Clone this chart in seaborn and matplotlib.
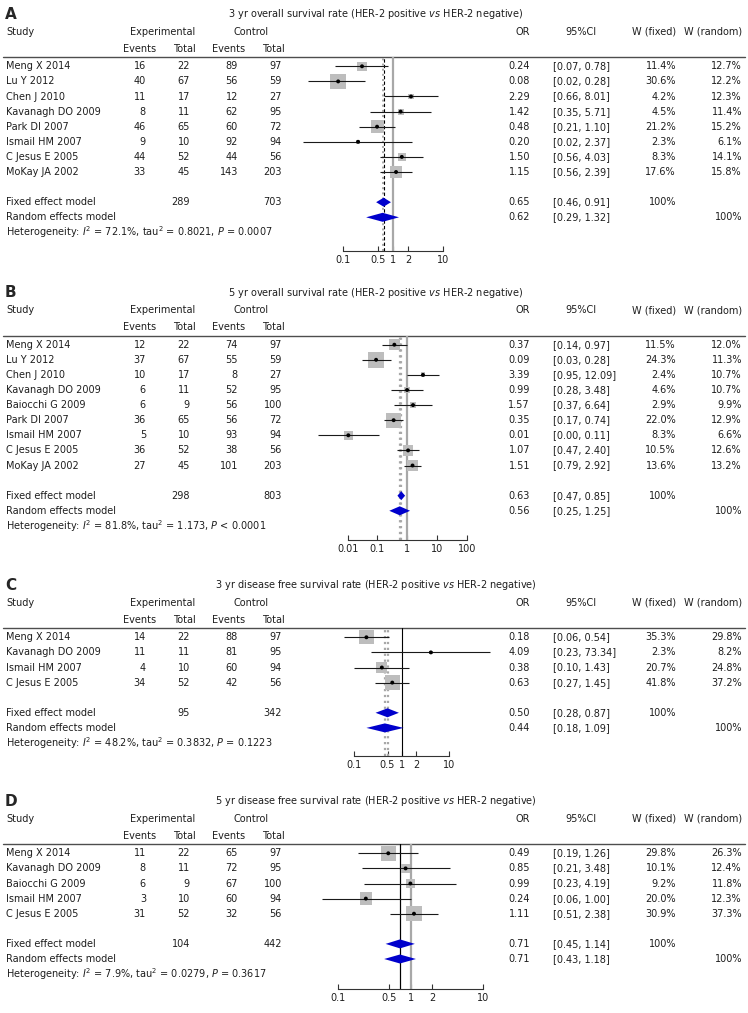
import numpy as np
import pandas as pd
import seaborn as sns
import matplotlib
matplotlib.use("Agg")
import matplotlib.pyplot as plt
from matplotlib.ticker import NullLocator

# %% data
SUBTITLE = r" (HER-2 positive $\it{vs}$ HER-2 negative)"

# A: 3 yr overall survival
A_TITLE = "3 yr overall survival rate"
A_STUDY = ["Meng X 2014", "Lu Y 2012", "Chen J 2010", "Kavanagh DO 2009", "Park DI 2007",
           "Ismail HM 2007", "C Jesus E 2005", "MoKay JA 2002"]
A_EV_E = [16, 40, 11, 8, 46, 9, 44, 33]
A_N_E = [22, 67, 17, 11, 65, 10, 52, 45]
A_EV_C = [89, 56, 12, 62, 60, 92, 44, 143]
A_N_C = [97, 59, 27, 95, 72, 94, 56, 203]
A_OR = [0.24, 0.08, 2.29, 1.42, 0.48, 0.20, 1.50, 1.15]
A_LO = [0.07, 0.02, 0.66, 0.35, 0.21, 0.016, 0.56, 0.56]
A_HI = [0.78, 0.28, 8.01, 5.71, 1.10, 2.37, 4.03, 2.39]
A_WF = [11.4, 30.6, 4.2, 4.5, 21.2, 2.3, 8.3, 17.6]
A_WR = [12.7, 12.2, 12.3, 11.4, 15.2, 6.1, 14.1, 15.8]
A_FIXED = [0.65, 0.46, 0.91]
A_RANDOM = [0.62, 0.29, 1.32]
A_TOTALS = [289, 703]
A_HET = ["72.1%", "0.8021", "= 0.0007"]
A_TICKS = [0.1, 0.5, 1, 2, 10]

# B: 5 yr overall survival
B_TITLE = "5 yr overall survival rate"
B_STUDY = ["Meng X 2014", "Lu Y 2012", "Chen J 2010", "Kavanagh DO 2009", "Baiocchi G 2009",
           "Park DI 2007", "Ismail HM 2007", "C Jesus E 2005", "MoKay JA 2002"]
B_EV_E = [12, 37, 10, 6, 6, 36, 5, 36, 27]
B_N_E = [22, 67, 17, 11, 9, 65, 10, 52, 45]
B_EV_C = [74, 55, 8, 52, 56, 56, 93, 38, 101]
B_N_C = [97, 59, 27, 95, 100, 72, 94, 56, 203]
B_OR = [0.37, 0.09, 3.39, 0.99, 1.57, 0.35, 0.0105, 1.07, 1.51]
B_LO = [0.14, 0.03, 0.95, 0.28, 0.37, 0.17, 0.001, 0.47, 0.79]
B_HI = [0.97, 0.28, 12.09, 3.48, 6.64, 0.74, 0.11, 2.40, 2.92]
B_WF = [11.5, 24.3, 2.4, 4.6, 2.9, 22.0, 8.3, 10.5, 13.6]
B_WR = [12.0, 11.3, 10.7, 10.7, 9.9, 12.9, 6.6, 12.6, 13.2]
B_FIXED = [0.63, 0.47, 0.85]
B_RANDOM = [0.56, 0.25, 1.25]
B_TOTALS = [298, 803]
B_HET = ["81.8%", "1.173", "< 0.0001"]
B_TICKS = [0.01, 0.1, 1, 10, 100]

# C: 3 yr disease free survival
C_TITLE = "3 yr disease free survival rate"
C_STUDY = ["Meng X 2014", "Kavanagh DO 2009", "Ismail HM 2007", "C Jesus E 2005"]
C_EV_E = [14, 11, 4, 34]
C_N_E = [22, 11, 10, 52]
C_EV_C = [88, 81, 60, 42]
C_N_C = [97, 95, 94, 56]
C_OR = [0.18, 4.09, 0.38, 0.63]
C_LO = [0.06, 0.23, 0.10, 0.27]
C_HI = [0.54, 73.34, 1.43, 1.45]
C_WF = [35.3, 2.3, 20.7, 41.8]
C_WR = [29.8, 8.2, 24.8, 37.2]
C_FIXED = [0.50, 0.28, 0.87]
C_RANDOM = [0.44, 0.18, 1.09]
C_TOTALS = [95, 342]
C_HET = ["48.2%", "0.3832", "= 0.1223"]
C_TICKS = [0.1, 0.5, 1, 2, 10]

# D: 5 yr disease free survival
D_TITLE = "5 yr disease free survival rate"
D_STUDY = ["Meng X 2014", "Kavanagh DO 2009", "Baiocchi G 2009", "Ismail HM 2007", "C Jesus E 2005"]
D_EV_E = [11, 8, 6, 3, 31]
D_N_E = [22, 11, 9, 10, 52]
D_EV_C = [65, 72, 67, 60, 32]
D_N_C = [97, 95, 100, 94, 56]
D_OR = [0.49, 0.85, 0.99, 0.24, 1.11]
D_LO = [0.19, 0.21, 0.23, 0.06, 0.51]
D_HI = [1.26, 3.48, 4.19, 1.00, 2.38]
D_WF = [29.8, 10.1, 9.2, 20.0, 30.9]
D_WR = [26.3, 12.4, 11.8, 12.3, 37.3]
D_FIXED = [0.71, 0.45, 1.14]
D_RANDOM = [0.71, 0.43, 1.18]
D_TOTALS = [104, 442]
D_HET = ["7.9%", "0.0279", "= 0.3617"]
D_TICKS = [0.1, 0.5, 1, 2, 10]

# %% layout (pixels): first row y, axis y, x of OR=1, px per decade
LAYOUT = {
    "A": dict(y0=66.3, axis_y=251, x1=393.0, dec=50.0),
    "B": dict(y0=344.7, axis_y=540, x1=407.2, dec=29.75),
    "C": dict(y0=637.3, axis_y=755.7, x1=401.8, dec=47.5),
    "D": dict(y0=853.3, axis_y=989, x1=410.7, dec=72.4),
}
GREY = "#a8a8a8"
LINES = {  # null line, fixed line, random line styles
    "A": [(GREY, "-", 1.6), ("black", (0, (3, 2)), 0.8), (GREY, ":", 1.4)],
    "B": [(GREY, "-", 1.6), (GREY, ":", 1.6), (GREY, ":", 1.6)],
    "C": [("black", "-", 0.8), (GREY, ":", 1.6), (GREY, ":", 1.6)],
    "D": [(GREY, "-", 1.6), ("black", "-", 0.8), ("black", "-", 0.8)],
}

panels = []
for key, src in zip("ABCD", [
        (A_TITLE, A_STUDY, A_EV_E, A_N_E, A_EV_C, A_N_C, A_OR, A_LO, A_HI, A_WF, A_WR, A_FIXED, A_RANDOM, A_TOTALS, A_HET, A_TICKS),
        (B_TITLE, B_STUDY, B_EV_E, B_N_E, B_EV_C, B_N_C, B_OR, B_LO, B_HI, B_WF, B_WR, B_FIXED, B_RANDOM, B_TOTALS, B_HET, B_TICKS),
        (C_TITLE, C_STUDY, C_EV_E, C_N_E, C_EV_C, C_N_C, C_OR, C_LO, C_HI, C_WF, C_WR, C_FIXED, C_RANDOM, C_TOTALS, C_HET, C_TICKS),
        (D_TITLE, D_STUDY, D_EV_E, D_N_E, D_EV_C, D_N_C, D_OR, D_LO, D_HI, D_WF, D_WR, D_FIXED, D_RANDOM, D_TOTALS, D_HET, D_TICKS)]):
    title, study, eve, ne, evc, nc, orr, lo, hi, wf, wr, fixed, random, totals, het, ticks = src
    df = pd.DataFrame(dict(study=study, ev_e=eve, n_e=ne, ev_c=evc, n_c=nc,
                           OR=orr, lo=lo, hi=hi, wf=wf, wr=wr))
    panels.append(dict(key=key, title=title, df=df, fixed=fixed, random=random,
                       totals=totals, het=het, ticks=ticks))

# %% figure
sns.set_theme(style="white")
plt.rcParams["font.family"] = ["DejaVu Sans"]
plt.rcParams["mathtext.fontset"] = "dejavusans"
FS = 7

W, H = 748, 1013
fig = plt.figure(figsize=(W / 100, H / 100), dpi=100)
bg = fig.add_axes([0, 0, 1, 1])
bg.set_xlim(0, W)
bg.set_ylim(H, 0)
bg.axis("off")

STEP = 15.1
COL = dict(study=6, ev_e=146, n_e=190, ev_c=238, n_c=282, OR=530, ci=553, wf=676, wr=742)
L_PX, R_PX = 292, 505

def txt(x, y, s, ha="left", **kw):
    bg.text(x, y, s, ha=ha, va="center", fontsize=kw.pop("fontsize", FS), color="#1e1e1e", **kw)

def ci_str(lo, hi):
    return f"[{lo:.2f}, {hi:.2f}]"

for p in panels:
    lay = LAYOUT[p["key"]]
    df = p["df"]
    y0 = lay["y0"]
    rows = y0 + STEP * np.arange(len(df))
    y_fix = rows[-1] + 2 * STEP
    y_ran = y_fix + STEP
    y_het = y_ran + STEP
    line_y = y0 - 9

    # headers
    bg.text(5, y0 - 52, p["key"], ha="left", va="center", fontsize=11, fontweight="bold")
    txt(376, y0 - 52, p["title"] + SUBTITLE, ha="center")
    yh = y0 - 34.5
    txt(COL["study"], yh, "Study")
    txt(163, yh, "Experimental", ha="center")
    txt(251, yh, "Control", ha="center")
    txt(523, yh, "OR", ha="center")
    txt(581, yh, "95%CI", ha="center")
    txt(COL["wf"], yh, "W (fixed)", ha="right")
    txt(COL["wr"], yh, "W (random)", ha="right")
    ye = y0 - 17.3
    for xc, lab in zip([140, 184, 229, 273], ["Events", "Total", "Events", "Total"]):
        txt(xc, ye, lab, ha="center")
    bg.plot([3, 745], [line_y, line_y], color="0.3", lw=1)

    # study rows
    for y, r in zip(rows, df.itertuples()):
        txt(COL["study"], y, r.study)
        txt(COL["ev_e"], y, str(r.ev_e), ha="right")
        txt(COL["n_e"], y, str(r.n_e), ha="right")
        txt(COL["ev_c"], y, str(r.ev_c), ha="right")
        txt(COL["n_c"], y, str(r.n_c), ha="right")
        txt(COL["OR"], y, f"{r.OR:.2f}", ha="right")
        txt(COL["ci"], y, ci_str(r.lo, r.hi))
        txt(COL["wf"], y, f"{r.wf:.1f}%", ha="right")
        txt(COL["wr"], y, f"{r.wr:.1f}%", ha="right")

    # pooled rows
    fx, rn = p["fixed"], p["random"]
    txt(COL["study"], y_fix, "Fixed effect model")
    txt(COL["n_e"], y_fix, str(p["totals"][0]), ha="right")
    txt(COL["n_c"], y_fix, str(p["totals"][1]), ha="right")
    txt(COL["OR"], y_fix, f"{fx[0]:.2f}", ha="right")
    txt(COL["ci"], y_fix, ci_str(fx[1], fx[2]))
    txt(COL["wf"], y_fix, "100%", ha="right")
    txt(COL["study"], y_ran, "Random effects model")
    txt(COL["OR"], y_ran, f"{rn[0]:.2f}", ha="right")
    txt(COL["ci"], y_ran, ci_str(rn[1], rn[2]))
    txt(COL["wr"], y_ran, "100%", ha="right")
    i2, tau2, pval = p["het"]
    txt(COL["study"], y_het,
        r"Heterogeneity: $\it{I}^2$ = " + i2 + r", tau$^2$ = " + tau2 + r", $\it{P}$ " + pval)

    # forest axes
    ax = fig.add_axes([L_PX / W, 1 - lay["axis_y"] / H, (R_PX - L_PX) / W,
                       (lay["axis_y"] - line_y) / H])
    ax.set_facecolor("none")
    ax.set_xscale("log")
    ax.set_xlim(10 ** ((L_PX - lay["x1"]) / lay["dec"]), 10 ** ((R_PX - lay["x1"]) / lay["dec"]))
    ax.set_ylim(lay["axis_y"], line_y)

    (nc_, nls, nlw), (fc, fls, flw), (rc, rls, rlw) = LINES[p["key"]]
    ax.axvline(1, color=nc_, ls=nls, lw=nlw, zorder=1)
    ax.axvline(rn[0], color=rc, ls=rls, lw=rlw, zorder=1)
    ax.axvline(fx[0], color=fc, ls=fls, lw=flw, zorder=1)

    # boxes: area proportional to fixed-effect weight
    df = df.assign(y=rows)
    wmin, wmax = df.wf.min(), df.wf.max()
    smax = 125
    sns.scatterplot(data=df, x="OR", y="y", size="wf", sizes=(smax * wmin / wmax, smax),
                    size_norm=(wmin, wmax), marker="s", color="#bdbdbd", edgecolor="none",
                    legend=False, ax=ax, zorder=2, clip_on=False)
    ax.hlines(df.y, df.lo, df.hi, color="#1a1a1a", lw=0.8, zorder=3, clip_on=False)
    sns.scatterplot(data=df, x="OR", y="y", s=8, color="black", edgecolor="none",
                    legend=False, ax=ax, zorder=4, clip_on=False)

    hh = 4.5
    for est, y in [(fx, y_fix), (rn, y_ran)]:
        ax.fill([est[1], est[0], est[2], est[0]], [y, y - hh, y, y + hh],
                color="#0000cc", lw=0, zorder=5, clip_on=False)

    ticks = p["ticks"]
    ax.set_xticks(ticks)
    ax.set_xticklabels([f"{t:g}" for t in ticks])
    ax.xaxis.set_minor_locator(NullLocator())
    ax.set_yticks([])
    ax.set_xlabel("")
    ax.set_ylabel("")
    for s in ["top", "left", "right"]:
        ax.spines[s].set_visible(False)
    ax.spines["bottom"].set_bounds(ticks[0], ticks[-1])
    ax.spines["bottom"].set_color("#333333")
    ax.spines["bottom"].set_linewidth(0.8)
    ax.tick_params(axis="x", direction="in", length=3.5, width=0.8, color="#333333",
                   labelsize=FS, labelcolor="#1e1e1e", pad=3, bottom=True)

fig.savefig("out.png", dpi=100)
